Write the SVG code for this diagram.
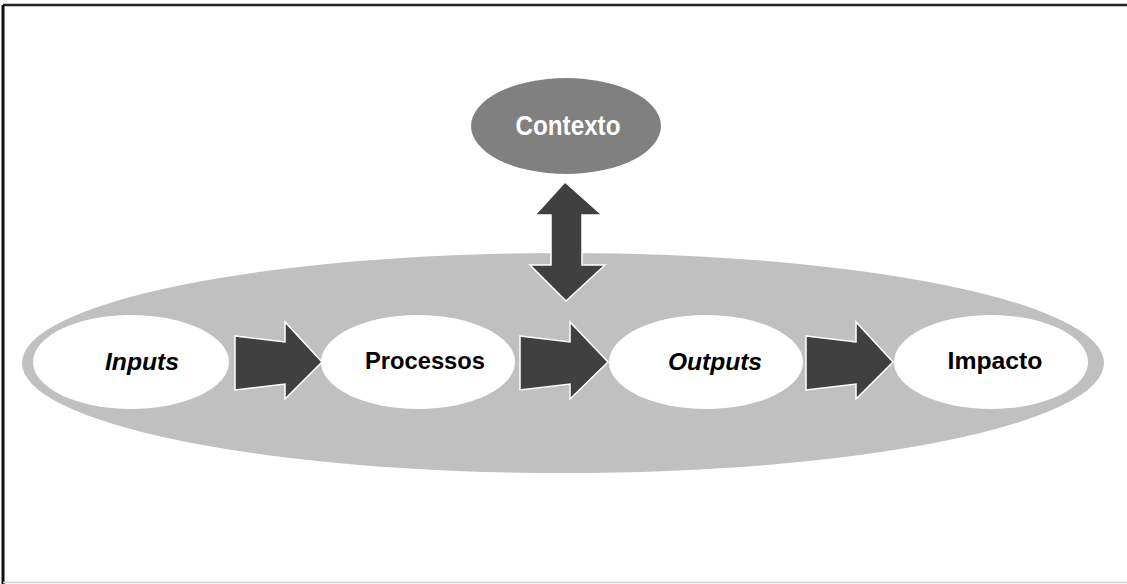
<svg xmlns="http://www.w3.org/2000/svg" width="1127" height="584" viewBox="0 0 1127 584">
  <style>
    .lbl { font-family: "Liberation Sans Narrow", "Liberation Sans", Arial, sans-serif; font-weight: bold; font-size: 23px; fill: #000; text-anchor: middle; }
    .it { font-style: italic; }
    .node { fill: #ffffff; }
    .arr { fill: #404040; stroke: #ffffff; stroke-width: 1.5; stroke-linejoin: miter; }
  </style>
  <rect x="0" y="0" width="1127" height="584" fill="#ffffff"/>
  <!-- frame -->
  <line x1="3" y1="5" x2="1127" y2="5" stroke="#222" stroke-width="2.5"/>
  <line x1="3" y1="5" x2="3" y2="584" stroke="#111" stroke-width="3"/>
  <line x1="3" y1="582.5" x2="1127" y2="582.5" stroke="#d0d0d0" stroke-width="1.5"/>

  <g id="background">
    <ellipse cx="563" cy="363" rx="541" ry="110" fill="#c0c0c0"/>
  </g>

  <g id="contexto">
    <ellipse cx="566" cy="126" rx="95" ry="48" fill="#808080"/>
    <text class="lbl" x="568" y="135" style="fill:#ffffff;font-size:27px" textLength="105" lengthAdjust="spacingAndGlyphs">Contexto</text>
  </g>

  <g id="inputs">
    <ellipse class="node" cx="131" cy="362" rx="98" ry="47"/>
    <text class="lbl it" x="142" y="370" textLength="74" lengthAdjust="spacingAndGlyphs">Inputs</text>
  </g>
  <g id="processos">
    <ellipse class="node" cx="418" cy="362" rx="97" ry="47"/>
    <text class="lbl" x="425" y="369" textLength="120" lengthAdjust="spacingAndGlyphs">Processos</text>
  </g>
  <g id="outputs">
    <ellipse class="node" cx="706" cy="362" rx="97" ry="47"/>
    <text class="lbl it" x="715" y="370" textLength="94" lengthAdjust="spacingAndGlyphs">Outputs</text>
  </g>
  <g id="impacto">
    <ellipse class="node" cx="991" cy="362" rx="97" ry="47"/>
    <text class="lbl" x="995" y="369" textLength="95" lengthAdjust="spacingAndGlyphs">Impacto</text>
  </g>

  <g id="connectors">
    <polygon class="arr" points="235,336 285,342 285,322 322,362 285,399 285,384 235,390"/>
    <polygon class="arr" points="520,336 570,342 570,322 608,362 570,399 570,384 520,390"/>
    <polygon class="arr" points="806,336 856,342 856,322 893,362 856,399 856,384 806,390"/>
    <polygon class="arr" points="565,182 602,215 582,215 582,265 605,265 566,301 530,265 551,265 551,215 535,215"/>
  </g>
</svg>
